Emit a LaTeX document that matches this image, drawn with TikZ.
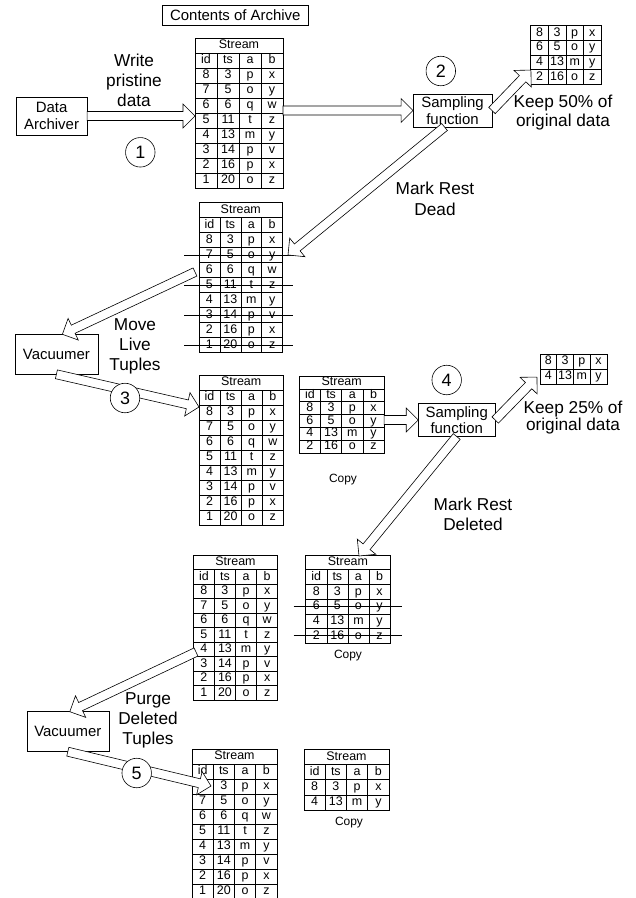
\documentclass[tikz,border=0pt]{standalone}
\usepackage{fontspec}
\setmainfont{Liberation Sans}
\usetikzlibrary{calc}

\tikzset{
  cell/.style={draw, inner sep=0pt, outer sep=0pt, text height=9bp, text depth=2.5bp,
    font=\fontsize{12.5}{13}\selectfont},
  box/.style={draw, align=center, inner sep=0pt, outer sep=0pt, font=\fontsize{15}{16.5}\selectfont},
  lbl/.style={align=center, font=\fontsize{17.3}{20}\selectfont},
  num/.style={draw, circle, fill=white, inner sep=0pt, minimum size=29.5bp, font=\fontsize{18}{18}\selectfont},
  strike/.style={line width=1pt},
  hollow/.style={draw, fill=white, to path={
    let \p1=(\tikztostart), \p2=(\tikztotarget),
        \n1={atan2(\y2-\y1,\x2-\x1)}, \n2={veclen(\x2-\x1,\y2-\y1)} in
    {[shift={(\p1)}, rotate=\n1]
      (0pt,-4.5pt) -- ({\n2-12pt},-4.5pt) -- ({\n2-12pt},-12pt) -- (\n2,0pt)
      -- ({\n2-12pt},12pt) -- ({\n2-12pt},4.5pt) -- (0pt,4.5pt) -- cycle}}}
}

% name, left, top, cell width, cell height, rows
\newcommand\rows[6]{%
  \foreach \a/\b/\c/\d [count=\i] in {#6} {
    \foreach \t [count=\j] in {\a,\b,\c,\d}
      \node (#1-\i-\j) at ({#2+(\j-0.5)*#4},{#3+(\i-0.5)*#5}) [cell, minimum width=#4bp, minimum height=#5bp] {\t};
  }
}
\newcommand\stream[6]{%
  \node (#1h) at (#2,#3) [cell, anchor=north west, minimum width={4*#4bp}, minimum height=#5bp] {Stream};
  \rows{#1}{#2}{#3+#5}{#4}{#5}{id/ts/a/b,#6}
}

\begin{document}
\begin{tikzpicture}[x=1bp, y=-1bp, line width=0.6pt]
  \useasboundingbox (0,0) rectangle (636,898);

  \node (arc) at (235.3,15) [box, minimum width=146bp, minimum height=20bp] {Contents of Archive};
  \node (arch) at (51.6,116) [box, minimum width=71bp, minimum height=38bp] {Data\\Archiver};
  \node (samp1) at (452.5,110.5) [box, minimum width=79bp, minimum height=33bp] {Sampling\\function};
  \node (vac1) at (56.4,354.3) [box, minimum width=83bp, minimum height=40bp] {Vacuumer};
  \node (samp2) at (456.7,420) [box, minimum width=77bp, minimum height=33bp] {Sampling\\function};
  \node (vac2) at (67.8,731.7) [box, minimum width=82bp, minimum height=40bp] {Vacuumer};

  % tables
  \stream{t1}{195}{38}{22}{15}{8/3/p/x, 7/5/o/y, 6/6/q/w, 5/11/t/z, 4/13/m/y, 3/14/p/v, 2/16/p/x, 1/20/o/z}
  \rows{s1}{530.7}{25.7}{17.6}{14.65}{8/3/p/x, 6/5/o/y, 4/13/m/y, 2/16/o/z}
  \stream{t2}{199}{202.7}{20.9}{15}{8/3/p/x, 7/5/o/y, 6/6/q/w, 5/11/t/z, 4/13/m/y, 3/14/p/v, 2/16/p/x, 1/20/o/z}
  \stream{t3}{199}{375}{21.08}{15}{8/3/p/x, 7/5/o/y, 6/6/q/w, 5/11/t/z, 4/13/m/y, 3/14/p/v, 2/16/p/x, 1/20/o/z}
  \stream{c3}{299.3}{376}{21.2}{12.8}{8/3/p/x, 6/5/o/y, 4/13/m/y, 2/16/o/z}
  \rows{s2}{540}{354.3}{16.7}{14.85}{8/3/p/x, 4/13/m/y}
  \stream{t4}{193.3}{555}{21.1}{14.5}{8/3/p/x, 7/5/o/y, 6/6/q/w, 5/11/t/z, 4/13/m/y, 3/14/p/v, 2/16/p/x, 1/20/o/z}
  \stream{c4}{305.7}{555}{21.1}{14.7}{8/3/p/x, 6/5/o/y, 4/13/m/y, 2/16/o/z}
  \stream{t5}{192}{749}{21.25}{15}{8/3/p/x, 7/5/o/y, 6/6/q/w, 5/11/t/z, 4/13/m/y, 3/14/p/v, 2/16/p/x, 1/20/o/z}
  \stream{c5}{304}{749.3}{21.25}{15.2}{8/3/p/x, 4/13/m/y}

  % struck out rows
  \foreach \r in {3,5,7,9}
    \draw[strike] ([xshift=-15pt]t2-\r-1.west) -- ([xshift=10pt]t2-\r-4.east);
  \foreach \r in {3,5}
    \draw[strike] ([xshift=-12pt]c4-\r-1.west) -- ([xshift=12pt]c4-\r-4.east);

  \node (cp3) at (343,480) [font=\fontsize{12}{12}\selectfont] {Copy};
  \node (cp4) at (348,656) [font=\fontsize{12}{12}\selectfont] {Copy};
  \node (cp5) at (349,822.5) [font=\fontsize{12}{12}\selectfont] {Copy};

  % labels
  \node (wr) at (134,80.5) [lbl] {Write\\pristine\\data};
  \node (k50) at (563,113) [lbl, font=\fontsize{17.3}{19}\selectfont] {Keep 50\% of\\original data};
  \node (mrd) at (435,198.5) [lbl, font=\fontsize{17.3}{21}\selectfont] {Mark Rest\\Dead};
  \node (mlt) at (135,346) [lbl] {Move\\Live\\Tuples};
  \node (k25) at (573,418) [lbl, font=\fontsize{17.3}{17}\selectfont] {Keep 25\% of\\original data};
  \node (mrx) at (473,514) [lbl] {Mark Rest\\Deleted};
  \node (pdt) at (148,720) [lbl] {Purge\\Deleted\\Tuples};

  % arrow ends
  \coordinate (k1) at (531,70);
  \coordinate (d1) at (288,255);
  \coordinate (v1) at (195,272);
  \coordinate (l1) at (199,407);
  \coordinate (k2) at (537,377);
  \coordinate (d2) at (359,556);
  \coordinate (p1) at (196,652);
  \coordinate (l2) at (211,786);

  \draw[hollow] (arch.east) to (arch.east -| t1h.west);
  \draw[hollow] (t1h.east |- samp1.west) to (samp1.west);
  \draw[hollow] (samp1.east) to (k1);
  \draw[hollow] ([xshift=-8pt]samp1.south) to (d1);
  \draw[hollow] (v1) to ([xshift=6pt]vac1.north);
  \draw[hollow] (vac1.south) to (l1);
  \draw[hollow] (c3h.east |- samp2.west) to (samp2.west);
  \draw[hollow] (samp2.east) to (k2);
  \draw[hollow] (samp2.south) to (d2);
  \draw[hollow] (p1) to ([xshift=2pt]vac2.north);
  \draw[hollow] (vac2.south) to (l2);

  % steps
  \node (n1) at (140.3,152.3) [num] {1};
  \node (n2) at (440.8,71) [num] {2};
  \node (n3) at (125,398) [num] {3};
  \node (n4) at (446.7,380) [num] {4};
  \node (n5) at (136.7,773) [num] {5};
\end{tikzpicture}
\end{document}
